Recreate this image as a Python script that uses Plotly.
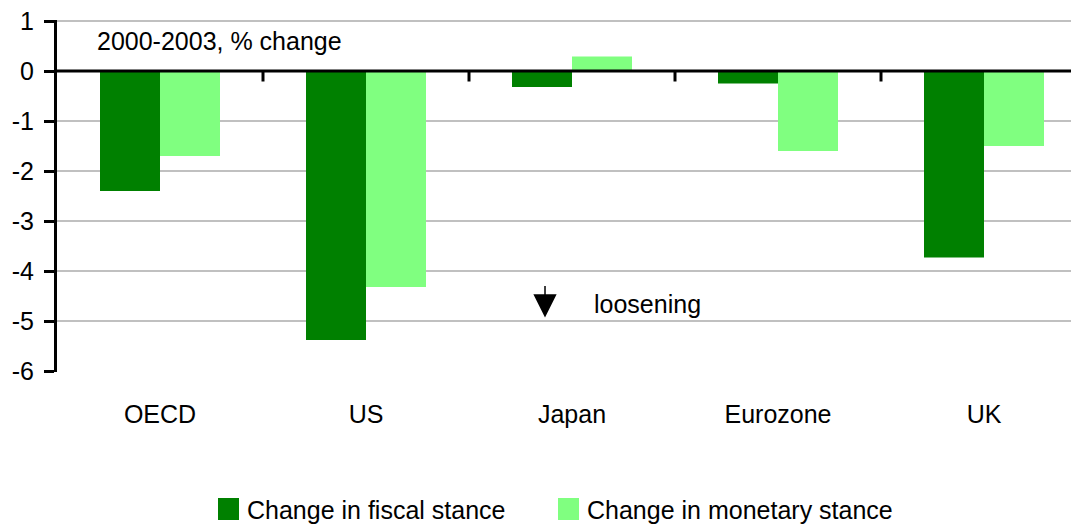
import plotly.graph_objects as go

categories = ["OECD", "US", "Japan", "Eurozone", "UK"]
fiscal = [-2.4, -5.38, -0.32, -0.25, -3.73]
monetary = [-1.7, -4.32, 0.29, -1.6, -1.5]
series_names = ["Change in fiscal stance", "Change in monetary stance"]
colors = ["#008000", "#80FF80"]
ytick_vals = [-6, -5, -4, -3, -2, -1, 0, 1]

FONT = "Liberation Sans, Arial, sans-serif"
FS = 25

# page body has an 8px margin; compensate so the plot lands where the reference has it
OFF = 8
W, H = 1079 - OFF, 526 - OFF
ML, MT = 57 - OFF, 20 - OFF
PLOT_BOTTOM = 372 - OFF
MB = H - PLOT_BOTTOM
MR = 0
plot_h = H - MT - MB
plot_w = W - ML - MR
cat_px = 206.0
Y0, Y1 = -6.02, 1.02

fig = go.Figure()
for name, vals, col in zip(series_names, [fiscal, monetary], colors):
    fig.add_trace(go.Bar(x=list(range(len(categories))), y=vals, name=name,
                         marker=dict(color=col, line=dict(width=0)), showlegend=False))

fig.update_layout(
    width=W, height=H,
    margin=dict(l=ML, r=MR, t=MT, b=MB, pad=0),
    paper_bgcolor="white", plot_bgcolor="white",
    barmode="group", bargap=1 - 120 / cat_px, bargroupgap=0,
    font=dict(family=FONT, size=FS, color="black"),
    xaxis=dict(range=[-0.5, -0.5 + plot_w / cat_px], tickvals=list(range(len(categories))),
               ticktext=categories, showgrid=False, zeroline=False, showline=False,
               ticks="", ticklabelstandoff=25, tickfont=dict(family=FONT, size=FS)),
    yaxis=dict(range=[Y0, Y1], tickmode="array", tickvals=ytick_vals,
               ticktext=[str(v) for v in ytick_vals], ticklabeloverflow="allow",
               showgrid=True, gridcolor="#C0C0C0", gridwidth=2, zeroline=False,
               showline=True, linecolor="black", linewidth=3, ticks="outside", ticklen=10,
               tickwidth=3, tickcolor="black", ticklabelstandoff=5,
               tickfont=dict(family=FONT, size=FS)),
)

# top gridline (plotly skips a gridline this close to the plot edge)
fig.add_shape(type="line", xref="paper", yref="y", x0=0, x1=1, y0=max(ytick_vals),
              y1=max(ytick_vals), line=dict(color="#C0C0C0", width=2), layer="below")
# zero line above bars
fig.add_shape(type="line", xref="paper", yref="y", x0=0, x1=1, y0=0, y1=0,
              line=dict(color="black", width=3), layer="above")
# category separator ticks on the zero line
for i in range(len(categories) - 1):
    fig.add_shape(type="line", xref="x", yref="y", x0=i + 0.5, x1=i + 0.5, y0=0, y1=-0.21,
                  line=dict(color="black", width=3), layer="above")

def py2paper(py):
    return (PLOT_BOTTOM - (py - OFF)) / plot_h

def px2paper(px):
    return (px - OFF - ML) / plot_w

fig.add_annotation(text="2000-2003, % change", xref="paper", yref="y",
                   x=px2paper(95), y=0.6, xanchor="left", yanchor="middle",
                   showarrow=False, font=dict(family=FONT, size=FS))

# loosening arrow
fig.add_annotation(text="", xref="x", yref="y", x=1.869, y=-4.93, ax=0, ay=-33,
                   showarrow=True, arrowhead=2, arrowsize=3.1, arrowwidth=1.5,
                   arrowcolor="black", standoff=0)
fig.add_annotation(text="loosening", xref="paper", yref="y", x=px2paper(592),
                   y=-4.65, xanchor="left", yanchor="middle", showarrow=False,
                   font=dict(family=FONT, size=FS))

# manual legend
leg = [(218, 245), (558, 585)]
for (sx, tx), name, col in zip(leg, series_names, colors):
    fig.add_shape(type="rect", xref="paper", yref="paper",
                  x0=px2paper(sx), x1=px2paper(sx + 21), y0=py2paper(520), y1=py2paper(498),
                  fillcolor=col, line=dict(width=0))
    fig.add_annotation(text=name, xref="paper", yref="paper", x=px2paper(tx), y=py2paper(510),
                       xanchor="left", yanchor="middle", showarrow=False,
                       font=dict(family=FONT, size=FS))

fig.write_html("out.html")
